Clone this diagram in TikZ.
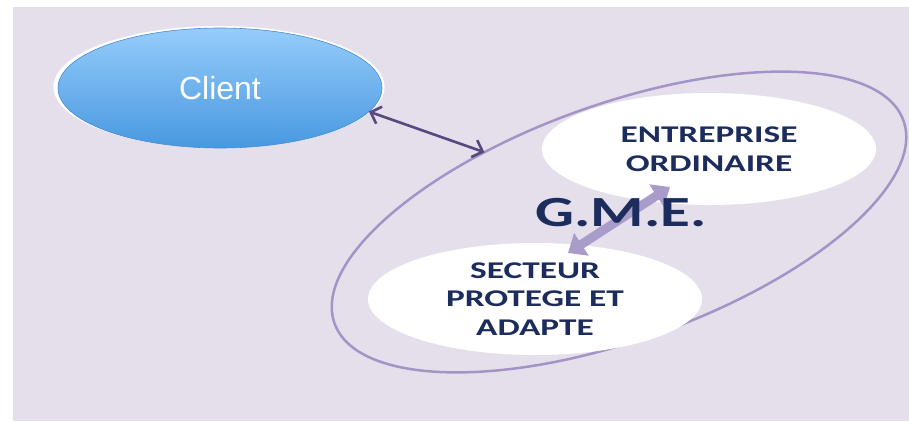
\documentclass[tikz,border=0pt]{standalone}
\usepackage{fontspec}
\usepackage{graphicx}
\usetikzlibrary{shapes.geometric,arrows.meta,calc}
\newfontfamily\arialf{Liberation Sans}
\newfontfamily\calf{Carlito}
\definecolor{panelc}{RGB}{229,223,236}
\definecolor{ringc}{RGB}{164,148,198}
\definecolor{darkarr}{RGB}{88,72,126}
\definecolor{lightarr}{RGB}{170,156,202}
\definecolor{navy}{RGB}{28,44,92}
\definecolor{ctop}{RGB}{150,204,250}
\definecolor{cbot}{RGB}{72,152,224}
\definecolor{cedge}{RGB}{70,140,210}
\newcommand{\wideT}[1]{\scalebox{1.47}[1]{#1}}
\tikzset{
  oval/.style={ellipse, inner sep=0pt, outer sep=0pt},
  whiteoval/.style={oval, fill=white, minimum width=334pt, minimum height=112pt,
    text=navy, font=\calf\bfseries\fontsize{24}{28.5}\selectfont, align=center},
}
\begin{document}
\begin{tikzpicture}[x=1pt,y=-1pt]
\useasboundingbox (0,0) rectangle (909,421);
\fill[white] (0,0) rectangle (909,421);
\fill[panelc] (13,7) rectangle (909,421);
% big ring
\node[oval, draw=ringc, line width=2.5pt, minimum width=604pt, minimum height=236pt, rotate=19.6] (ring) at (619,222) {};
% client halo + client
\node[oval, fill=white, minimum width=331pt, minimum height=122pt] (halo) at (219,87) {};
\node[oval, draw=cedge, line width=0.6pt, top color=ctop, bottom color=cbot, minimum width=324pt, minimum height=120pt,
  text=white, font=\arialf\fontsize{32}{36}\selectfont] (client) at (220,88) {Client};
% white ovals
\node[whiteoval] (entr) at (709,149) {\wideT{ENTREPRISE}\\\wideT{ORDINAIRE}};
\node[whiteoval] (sect) at (535,299) {\wideT{SECTEUR}\\\wideT{PROTEGE ET}\\\wideT{ADAPTE}};
% arrows
\draw[darkarr, line width=2.6pt, {Straight Barb[length=9pt,width=18pt]}-{Straight Barb[length=9pt,width=18pt]}] (client.-9) -- (ring.133);
\coordinate (lo) at ($(sect.center)+(33,-46)$);
\coordinate (hi) at ($(entr.center)+(-39,38)$);
\draw[lightarr, line width=9pt, {Triangle[length=16pt,width=26pt]}-{Triangle[length=16pt,width=26pt]}] (lo) -- (hi);
\node[text=navy, font=\calf\bfseries\fontsize{43}{48}\selectfont, inner sep=0pt] (gme) at (621,213) {\scalebox{1.42}[1]{G.M.E.}};
\end{tikzpicture}
\end{document}
